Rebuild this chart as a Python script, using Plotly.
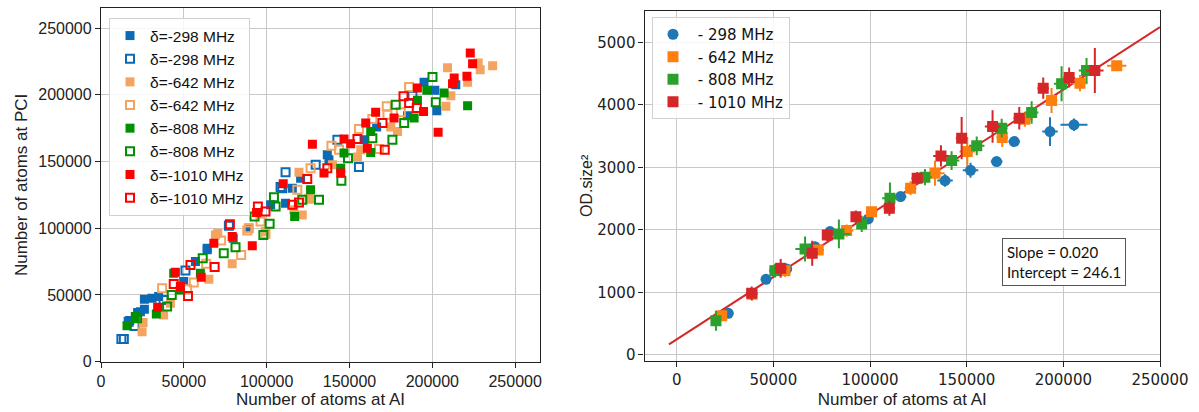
import plotly.graph_objects as go

# ---------------- Left panel data (thousands of atoms) ----------------
b_fill_x = [17.3, 22.1, 23.8, 26.2, 26.2, 30.8, 34.8, 49.9, 57.0, 64.1, 64.1, 79.8, 89.2, 102.4, 111.4, 115.5, 120.5, 136.6, 137.6, 158.8, 166.4, 185.0, 195.0, 201.5, 202.7, 214.2]
b_fill_y = [30.8, 36.8, 37.5, 39.3, 46.8, 47.5, 48.8, 60.0, 75.0, 83.8, 85.0, 92.5, 100.0, 117.5, 118.8, 130.0, 137.5, 155.0, 151.3, 166.3, 175.8, 184.3, 209.3, 203.3, 188.0, 207.5]
b_open_x = [12.3, 13.8, 16.7, 20.3, 37.8, 51.0, 77.2, 108.4, 109.4, 111.4, 129.6, 142.7, 155.7, 188.0]
b_open_y = [17.0, 17.0, 30.0, 26.8, 46.3, 68.3, 101.8, 130.8, 130.0, 142.0, 147.5, 166.3, 145.8, 199.3]
o_fill_x = [24.8, 25.4, 37.8, 41.9, 65.1, 69.1, 70.5, 79.2, 99.3, 116.4, 119.5, 121.5, 125.5, 126.1, 139.7, 154.8, 156.8, 174.9, 179.0, 208.2, 209.2, 211.2, 221.3, 227.7, 228.9, 236.4]
o_fill_y = [22.5, 29.3, 35.0, 43.8, 61.8, 95.0, 96.3, 73.3, 97.5, 113.8, 142.0, 110.0, 122.5, 121.8, 147.5, 153.3, 158.8, 175.8, 172.5, 191.3, 220.3, 199.3, 209.3, 223.8, 218.8, 221.8]
o_open_x = [36.9, 52.0, 56.0, 63.5, 72.5, 84.6, 88.3, 89.2, 96.3, 99.3, 118.5, 126.5, 139.1, 143.7, 155.7, 163.8, 167.8, 172.5, 172.9, 181.0, 186.0]
o_open_y = [55.0, 54.3, 59.3, 73.3, 90.8, 80.0, 98.3, 100.0, 105.0, 95.8, 128.8, 145.0, 161.8, 158.8, 174.3, 181.8, 159.3, 191.3, 185.0, 186.8, 205.8]
g_fill_x = [15.7, 20.7, 33.4, 43.9, 47.9, 60.0, 116.9, 126.5, 144.7, 146.7, 162.8, 162.8, 189.0, 191.0, 196.7, 207.1, 221.3]
g_fill_y = [27.0, 33.8, 35.8, 66.3, 53.8, 66.3, 108.8, 128.8, 145.0, 156.3, 172.5, 156.8, 182.5, 195.8, 203.3, 201.3, 191.8]
g_open_x = [21.8, 39.9, 42.7, 61.4, 74.1, 81.2, 92.7, 98.0, 101.8, 104.4, 105.4, 121.5, 131.6, 145.1, 149.1, 163.8, 175.9, 177.9, 183.0, 200.1, 202.1]
g_open_y = [32.5, 41.3, 50.0, 77.5, 81.3, 85.8, 108.8, 95.0, 103.3, 123.3, 116.3, 121.3, 121.3, 135.5, 152.5, 167.5, 166.3, 192.5, 178.8, 213.3, 194.3]
r_fill_x = [34.2, 44.9, 47.9, 60.5, 68.1, 79.2, 91.3, 93.9, 110.0, 127.6, 134.6, 144.7, 146.7, 150.7, 159.8, 160.8, 165.8, 176.9, 191.0, 194.7, 203.5, 212.2, 213.2, 220.9, 222.9, 224.3]
r_fill_y = [40.8, 67.0, 56.3, 63.3, 88.8, 93.8, 86.8, 111.8, 133.3, 163.0, 141.3, 141.3, 166.8, 163.3, 178.8, 160.0, 186.8, 182.5, 205.0, 187.5, 172.0, 208.3, 212.5, 213.8, 231.3, 223.3]
r_open_x = [43.9, 52.5, 54.0, 68.6, 77.8, 94.7, 99.3, 115.5, 119.5, 124.5, 136.6, 154.8, 169.9, 171.3, 182.6, 186.0, 190.6]
r_open_y = [58.3, 49.3, 72.5, 71.0, 103.0, 116.3, 112.5, 117.5, 119.3, 136.8, 145.0, 166.8, 178.8, 158.8, 198.8, 193.8, 190.0]

left_labels = ["δ=-298 MHz", "δ=-298 MHz", "δ=-642 MHz", "δ=-642 MHz",
               "δ=-808 MHz", "δ=-808 MHz", "δ=-1010 MHz", "δ=-1010 MHz"]

# ---------------- Right panel data ----------------
b_x = [26700, 46200, 56900, 71500, 79300, 99100, 115800, 138800, 152000, 165500, 174600, 193100, 205500]
b_y = [663, 1208, 1374, 1731, 1972, 2175, 2533, 2789, 2955, 3094, 3414, 3575, 3682]
b_xe = [1500, 1500, 2000, 2500, 2500, 2500, 3000, 4000, 4000, 3000, 3000, 4000, 7000]
b_ye = [60, 50, 50, 80, 60, 70, 60, 100, 120, 60, 60, 230, 100]
o_x = [23300, 39000, 56000, 73200, 87900, 100800, 121000, 133600, 150300, 168400, 180100, 193900, 208600, 227600]
o_y = [625, 970, 1347, 1678, 1988, 2292, 2667, 2908, 3254, 3479, 3773, 4072, 4350, 4628]
o_xe = [2000, 3000, 2500, 3000, 3500, 3000, 3000, 5000, 4000, 3000, 4000, 3000, 4000, 5000]
o_ye = [80, 100, 100, 80, 100, 80, 110, 200, 230, 150, 120, 200, 130, 60]
g_x = [20300, 50800, 66400, 83900, 95700, 110300, 128400, 142200, 155200, 168100, 183600, 199100, 212000]
g_y = [545, 1347, 1694, 1935, 2095, 2507, 2843, 3110, 3346, 3629, 3879, 4339, 4553]
g_xe = [2000, 3000, 5000, 6000, 2500, 4000, 3500, 4000, 4000, 3000, 3500, 4000, 4000]
g_ye = [160, 110, 200, 230, 130, 250, 130, 150, 150, 150, 180, 280, 200]
r_x = [38800, 53800, 70100, 77900, 92700, 110000, 124400, 136700, 147400, 163400, 177200, 189600, 203000, 216300]
r_y = [984, 1385, 1625, 1919, 2212, 2347, 2828, 3185, 3469, 3655, 3789, 4270, 4440, 4553]
r_xe = [3000, 3000, 3000, 2500, 2500, 3000, 3000, 4000, 3000, 4000, 3000, 3000, 3000, 4500]
r_ye = [110, 150, 200, 100, 100, 120, 100, 170, 340, 260, 180, 170, 160, 360]
right_labels = ["\u00a0- 298 MHz", "\u00a0- 642 MHz", "\u00a0- 808 MHz", "\u00a0- 1010 MHz"]

slope = 0.020
intercept = 246.1
fit_x = [-4000, 250000]

# ---------------- Figure ----------------
fig = go.Figure()
lc = ["#0a6ab6", "#0a6ab6", "#f4a460", "#f4a460", "#009000", "#009000", "#ff0000", "#ff0000"]
left_sets = [(b_fill_x, b_fill_y, False), (b_open_x, b_open_y, True),
             (o_fill_x, o_fill_y, False), (o_open_x, o_open_y, True),
             (g_fill_x, g_fill_y, False), (g_open_x, g_open_y, True),
             (r_fill_x, r_fill_y, False), (r_open_x, r_open_y, True)]
for (xs, ys, op), col, lab in zip(left_sets, lc, left_labels):
    fig.add_trace(go.Scatter(
        x=[v * 1000 for v in xs], y=[v * 1000 for v in ys], mode="markers",
        name=lab, legend="legend", xaxis="x", yaxis="y",
        marker=dict(symbol="square-open" if op else "square", size=8 if op else 9,
                    color=col, line=dict(width=2 if op else 0, color=col))))

fit_y = [slope * v + intercept for v in fit_x]
fig.add_trace(go.Scatter(x=fit_x, y=fit_y, mode="lines", xaxis="x2", yaxis="y2",
                         line=dict(color="#d62728", width=2), showlegend=False))

rc = ["#1f77b4", "#ff7f0e", "#2ca02c", "#d62728"]
right_sets = [(b_x, b_y, b_xe, b_ye, "circle", 11), (o_x, o_y, o_xe, o_ye, "square", 11),
              (g_x, g_y, g_xe, g_ye, "square", 11), (r_x, r_y, r_xe, r_ye, "square", 11)]
for (xs, ys, xe, ye, sym, sz), col, lab in zip(right_sets, rc, right_labels):
    fig.add_trace(go.Scatter(
        x=xs, y=ys, mode="markers", name=lab, legend="legend2", xaxis="x2", yaxis="y2",
        marker=dict(symbol=sym, size=sz, color=col),
        error_x=dict(type="data", array=xe, visible=True, width=0, thickness=2, color=col),
        error_y=dict(type="data", array=ye, visible=True, width=0, thickness=2, color=col)))

W, H = 1199, 412
ax_common = dict(showgrid=True, gridcolor="#c8c8c8", gridwidth=1, zeroline=False,
                 showline=True, linecolor="#222222", linewidth=1.3, mirror=True,
                 ticks="outside", ticklen=5, tickcolor="#222222", tickformat="d",
                 automargin=False)
arial = "Liberation Sans, Arial, sans-serif"
dejavu = "DejaVu Sans, sans-serif"

fig.update_layout(
    width=W, height=H, margin=dict(l=0, r=0, t=0, b=0),
    paper_bgcolor="white", plot_bgcolor="white",
    xaxis=dict(domain=[101 / W, 540 / W], range=[0, 265000], anchor="y",
               tickvals=[0, 50000, 100000, 150000, 200000, 250000],
               tickfont=dict(family=arial, size=16, color="#222"),
               title=dict(text="Number of atoms at AI", font=dict(family=arial, size=17, color="#222"), standoff=4),
               **ax_common),
    yaxis=dict(domain=[(H - 361.7) / H, (H - 8) / H], range=[0, 265000], anchor="x",
               tickvals=[0, 50000, 100000, 150000, 200000, 250000],
               tickfont=dict(family=arial, size=16, color="#222"),
               title=dict(text="Number of atoms at PCI", font=dict(family=arial, size=17, color="#222"), standoff=6),
               **ax_common),
    xaxis2=dict(domain=[644.6 / W, 1160 / W], range=[-16600, 250000], anchor="y2",
                tickvals=[0, 50000, 100000, 150000, 200000, 250000],
                tickfont=dict(family=dejavu, size=15, color="#222"),
                title=dict(text="Number of atoms at AI", font=dict(family=arial, size=17, color="#222"), standoff=4),
                **ax_common),
    yaxis2=dict(domain=[(H - 361) / H, (H - 10.7) / H], range=[-100, 5510], anchor="x2",
                tickvals=[0, 1000, 2000, 3000, 4000, 5000],
                tickfont=dict(family=dejavu, size=15, color="#222"),
                title=dict(text="OD.size²", font=dict(family=arial, size=16, color="#222"), standoff=0),
                **ax_common),
    legend=dict(x=109 / W, y=1 - 18 / H, xanchor="left", yanchor="top",
                bgcolor="rgba(255,255,255,0.85)", bordercolor="#d0d0d0", borderwidth=1,
                font=dict(family=arial, size=15.5, color="#111"), tracegroupgap=0),
    legend2=dict(x=652 / W, y=1 - 17 / H, xanchor="left", yanchor="top",
                 bgcolor="rgba(255,255,255,0.85)", bordercolor="#d0d0d0", borderwidth=1,
                 font=dict(family=dejavu, size=15, color="#111")),
    annotations=[dict(xref="paper", yref="paper", x=1064 / W, y=1 - 262 / H,
                      xanchor="center", yanchor="middle", showarrow=False, align="left",
                      text="Slope = 0.020<br>Intercept = 246.1",
                      font=dict(family="Lato, sans-serif", size=15, color="#111"),
                      bordercolor="#555", borderwidth=1, borderpad=4, bgcolor="white")],
)

fig.write_html("out.html")
